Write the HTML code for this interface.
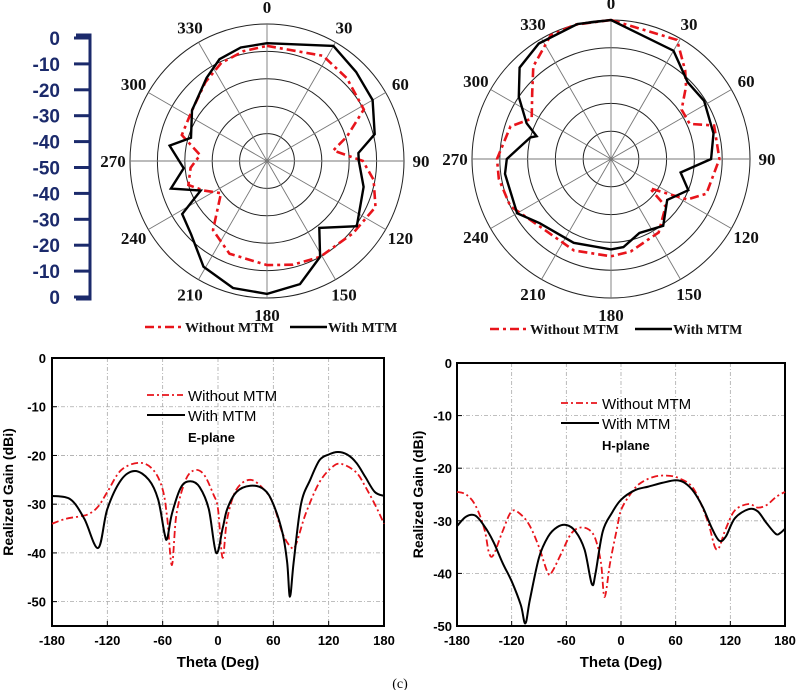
<!DOCTYPE html>
<html><head><meta charset="utf-8">
<style>
html,body{margin:0;padding:0;background:#fff;}
svg{display:block;}
.ser{font-family:"Liberation Serif",serif;font-weight:bold;}
.san{font-family:"Liberation Sans",sans-serif;}
</style></head>
<body>
<svg id="fig" width="797" height="690" viewBox="0 0 797 690" xmlns="http://www.w3.org/2000/svg">
<g id="scale"></g>
<g id="polarL"></g>
<g id="polarR"></g>
<g id="cartL"></g>
<g id="cartR"></g>
<text x="400" y="688" text-anchor="middle" font-family="Liberation Serif,serif" font-size="14">(c)</text>
</svg>
<script>
// ---- polar data (angle deg, gain dB, 0 at outer ring, -50 at centre)
const polarAnglesLWith = [0,30,45,60,76,85,90,105,126,142,151,165,180,195,211,226,238,246,254,265,279,287,304,324,335,347];
const polarLWith = [-7,-1.5,-4,-5.5,-9.5,-16.5,-16.5,-13.5,-9.5,-19,-10,-3.5,-1.5,-2,-5,-11.5,-13.5,-23.5,-13.5,-19.5,-14,-21,-17,-12.5,-9,-7.5];
const polarAnglesLWithout = [0,28,44,62,73,81,90,100,113,130,151,166,180,202,218,235,245,253,265,275,287,304,322,335,348];
const polarLWithout = [-8,-6.5,-8,-10,-19.5,-25.5,-15,-10.5,-7,-9,-10,-11,-12,-13.5,-18,-29.5,-24.5,-20,-22,-25.5,-17.5,-17,-13.5,-10.5,-9];
const polarAnglesRWith = [0,30,45,58,76,90,101,112,126,142,159,172,180,204,228,240,262,270,285,287,293,304,315,328,346];
const polarRWith = [0,-5,-11,-10.5,-12,-14,-24.5,-20,-25,-19.5,-21.5,-18,-17.5,-17,-15.5,-11,-11.5,-12.5,-20,-22,-17,-10,-3.5,-1,0];
const polarAnglesRWithout = [0,29,40,46,55,66,72,90,110,118,127,131,147,168,180,202,224,245,260,270,288,297,310,320,334,345];
const polarRWithout = [0,-1,-8.5,-12.5,-19,-19,-11,-11,-13.5,-19,-32.5,-24,-18.5,-16,-15,-14.5,-15,-10,-9,-9,-12,-18,-13,-6.5,-0.5,0];
const polarAngleTicks = [0,30,60,90,120,150,180,210,240,270,300,330];
const scaleTickLabels = ["0","-10","-20","-30","-40","-50","-40","-30","-20","-10","0"];

// ---- cartesian data
const thetaTicks = [-180,-120,-60,0,60,120,180];
const gainTicks = [0,-10,-20,-30,-40,-50];
const eThetaWith = [-180,-160,-145,-130,-120,-105,-90,-75,-65,-58,-55,-50,-40,-30,-20,-10,-2,5,10,20,35,50,60,70,75,78,82,90,100,110,120,130,140,150,160,170,180];
const eGainWith = [-28.3,-29,-33,-39,-31,-25,-23.2,-25,-29,-36,-37,-32,-26.5,-25.3,-26.5,-31,-40,-35,-31,-27.5,-26.2,-27,-30,-36,-42,-49,-42,-30,-25,-21,-19.8,-19.3,-19.8,-21.5,-24.5,-27.5,-28.3];
const eThetaWithout = [-180,-165,-150,-140,-130,-120,-105,-85,-70,-60,-55,-50,-45,-35,-25,-15,-5,0,5,10,20,35,50,60,70,80,85,95,110,125,135,150,160,170,180];
const eGainWithout = [-34,-33,-32.5,-32,-30.5,-27.5,-23,-21.5,-23,-27,-33,-42.5,-32,-25,-23,-24,-28,-31,-41,-33,-27,-25,-27,-30,-36,-39,-38,-32,-25.5,-22.2,-21.8,-23.5,-26.5,-30,-34];
const hThetaWith = [-180,-170,-160,-150,-140,-130,-120,-110,-105,-100,-90,-80,-70,-60,-50,-40,-32,-28,-20,-10,0,15,30,45,60,70,80,90,100,108,115,125,140,150,160,170,175,180];
const hGainWith = [-31,-29.2,-29,-31,-34,-38,-41.5,-46,-49.5,-45,-37,-33,-31.2,-30.8,-32,-35.5,-42,-40,-32,-28.5,-26,-24.2,-23.5,-22.8,-22.3,-22.8,-24.5,-27.5,-31.5,-33.8,-33,-29.5,-27.8,-28.2,-30.5,-32.5,-32.3,-31.5];
const hThetaWithout = [-180,-170,-160,-150,-145,-140,-130,-120,-110,-100,-90,-80,-75,-65,-55,-45,-35,-28,-22,-18,-12,-5,0,10,20,35,50,65,80,95,105,115,125,140,150,160,170,180];
const hGainWithout = [-24.5,-25,-27,-31.5,-36,-36.5,-32,-28.2,-28.8,-31,-35,-40,-39.5,-36,-32.5,-31.3,-31.7,-33.5,-38,-44.5,-38,-32,-28,-25,-23,-21.7,-21.4,-22,-24,-30,-35.5,-31.5,-28,-26.8,-27.5,-27,-25.5,-24.5];

const NS = "http://www.w3.org/2000/svg";
function mk(parent, tag, attrs, text){
  const e = document.createElementNS(NS, tag);
  for (const k in attrs) e.setAttribute(k, attrs[k]);
  if (text !== undefined) e.textContent = text;
  parent.appendChild(e);
  return e;
}
function smoothPath(pts, closed){
  const n = pts.length;
  const get = i => closed ? pts[(i+n)%n] : pts[Math.max(0,Math.min(n-1,i))];
  let d = "M" + pts[0][0].toFixed(1) + "," + pts[0][1].toFixed(1);
  const last = closed ? n : n-1;
  for (let i=0;i<last;i++){
    const p0=get(i-1),p1=get(i),p2=get(i+1),p3=get(i+2);
    const c1=[p1[0]+(p2[0]-p0[0])/6,p1[1]+(p2[1]-p0[1])/6];
    const c2=[p2[0]-(p3[0]-p1[0])/6,p2[1]-(p3[1]-p1[1])/6];
    d += "C"+c1[0].toFixed(1)+","+c1[1].toFixed(1)+" "+c2[0].toFixed(1)+","+c2[1].toFixed(1)+" "+p2[0].toFixed(1)+","+p2[1].toFixed(1);
  }
  return d + (closed ? "Z" : "");
}

// ---- scale bar
(function(){
  const g = document.getElementById('scale');
  const navy = "#1b2a6b";
  const y0 = 38, y1 = 297;
  const ln = mk(g,'path',{d:"M76,"+(y0-3)+"H90V"+(y1+2)+"H76",fill:"none",stroke:navy,"stroke-width":3});
  
  
  scaleTickLabels.forEach((lab,i)=>{
    const y = y0 + (y1-y0)*i/(scaleTickLabels.length-1);
    const t = mk(g,'line',{x1:74,x2:90,y1:y,y2:y,stroke:navy,"stroke-width":3});
    
    
    const tx = mk(g,'text',{x:60,y:y+7,"text-anchor":"end","font-family":"Liberation Sans,sans-serif","font-weight":"bold","font-size":19,fill:navy},lab);
    
    
  });
})();

// ---- polar charts
function polar(id, cx, cy, R, withA, withV, woA, woV, legY, legX){
  const g = document.getElementById(id);
  const rOf = db => Math.max(0,(db+50)/50)*R;
  for (let k=1;k<=5;k++){
    const c = mk(g,'circle',{cx:cx,cy:cy,r:R*k/5,fill:"none",stroke:"#222","stroke-width":1});
    
    
  }
  polarAngleTicks.forEach(a=>{
    const rad = a*Math.PI/180;
    const sp = mk(g,'line',{x1:cx,y1:cy,x2:cx+R*Math.sin(rad),y2:cy-R*Math.cos(rad),stroke:"#777","stroke-width":0.9});
    
    
    const lr = R+17;
    const t = mk(g,'text',{x:cx+lr*Math.sin(rad),y:cy-lr*Math.cos(rad)+6,"text-anchor":"middle","class":"ser","font-size":17,fill:"#111"},String(a));
    
    
  });
  const pts = (A,V)=>A.map((a,i)=>{const rad=a*Math.PI/180,r=rOf(V[i]);return [cx+r*Math.sin(rad),cy-r*Math.cos(rad)];});
  const pw = mk(g,'path',{d:"M"+pts(woA,woV).map(p=>p[0].toFixed(1)+","+p[1].toFixed(1)).join("L")+"Z",fill:"none",stroke:"#e8141b","stroke-width":2.6,"stroke-dasharray":"9 4 3 4"});
  
  
  const pm = mk(g,'path',{d:"M"+pts(withA,withV).map(p=>p[0].toFixed(1)+","+p[1].toFixed(1)).join("L")+"Z",fill:"none",stroke:"#000","stroke-width":2.4});
  
  
  // legend
  const l1 = mk(g,'line',{x1:legX,x2:legX+38,y1:legY,y2:legY,stroke:"#e8141b","stroke-width":2.6,"stroke-dasharray":"9 4 3 4"});
  
  
  const t1 = mk(g,'text',{x:legX+40,y:legY+5,"class":"ser","font-size":14,fill:"#111"},"Without MTM");
  
  
  const l2 = mk(g,'line',{x1:legX+145,x2:legX+182,y1:legY,y2:legY,stroke:"#000","stroke-width":2.6});
  
  
  const t2 = mk(g,'text',{x:legX+183,y:legY+5,"class":"ser","font-size":14,fill:"#111"},"With MTM");
  
  
}
polar('polarL',267,161,137,polarAnglesLWith,polarLWith,polarAnglesLWithout,polarLWithout,327,145);
polar('polarR',611,159,139,polarAnglesRWith,polarRWith,polarAnglesRWithout,polarRWithout,329,490);

// ---- cartesian charts
function cart(id, L, Rr, T, yMin, yMinPx, wT, wG, woT, woG, legX, legY, planeLabel, ylabX, tickLabX){
  const g = document.getElementById(id);
  const x = v => L + (v+180)/360*(Rr-L);
  const y = v => T + (0-v)/(0-yMin)*(yMinPx-T);
  const B = y(yMin);
  thetaTicks.forEach(v=>{
    if (v>-180 && v<180){
      const gl = mk(g,'line',{x1:x(v),x2:x(v),y1:T,y2:B,stroke:"#aaa","stroke-width":0.8,"stroke-dasharray":"4 2 1 2"});
      
      
    }
    const tk = mk(g,'line',{x1:x(v),x2:x(v),y1:B,y2:B-5,stroke:"#000","stroke-width":1});
    
    
    const t = mk(g,'text',{x:x(v),y:645,"text-anchor":"middle","class":"san","font-weight":"bold","font-size":13},String(v));
    
    
  });
  gainTicks.forEach(v=>{
    if (v<0 && v>yMin){
      const gl = mk(g,'line',{x1:L,x2:Rr,y1:y(v),y2:y(v),stroke:"#aaa","stroke-width":0.8,"stroke-dasharray":"4 2 1 2"});
      
      
    }
    const tk = mk(g,'line',{x1:L,x2:L+5,y1:y(v),y2:y(v),stroke:"#000","stroke-width":1});
    
    
    const t = mk(g,'text',{x:tickLabX,y:y(v)+5,"text-anchor":"end","class":"san","font-weight":"bold","font-size":13},String(v));
    
    
  });
  const fr = mk(g,'rect',{x:L,y:T,width:Rr-L,height:B-T,fill:"none",stroke:"#000","stroke-width":2});
  
  
  const red = mk(g,'path',{d:smoothPath(woT.map((t,i)=>[x(t),y(woG[i])]),false),fill:"none",stroke:"#e8141b","stroke-width":1.8,"stroke-dasharray":"7 3 2 3"});
  
  
  const blk = mk(g,'path',{d:smoothPath(wT.map((t,i)=>[x(t),y(wG[i])]),false),fill:"none",stroke:"#000","stroke-width":2});
  
  
  const l1 = mk(g,'line',{x1:legX,x2:legX+36,y1:legY,y2:legY,stroke:"#e8141b","stroke-width":1.8,"stroke-dasharray":"7 3 2 3"});
  
  
  const t1 = mk(g,'text',{x:legX+41,y:legY+6,"class":"san","font-size":15},"Without MTM");
  
  
  const l2 = mk(g,'line',{x1:legX,x2:legX+38,y1:legY+20,y2:legY+20,stroke:"#000","stroke-width":2});
  
  
  const t2 = mk(g,'text',{x:legX+41,y:legY+26,"class":"san","font-size":15},"With MTM");
  
  
  const t3 = mk(g,'text',{x:legX+41,y:legY+47,"class":"san","font-weight":"bold","font-size":13},planeLabel);
  
  
  const xt = mk(g,'text',{x:(L+Rr)/2,y:667,"text-anchor":"middle","class":"san","font-weight":"bold","font-size":15},"Theta (Deg)");
  
  
  const cy = (T+B)/2;
  const yt = mk(g,'text',{x:ylabX,y:cy,"text-anchor":"middle","class":"san","font-weight":"bold","font-size":14,transform:"rotate(-90 "+ylabX+" "+cy+")"},"Realized Gain (dBi)");
  
  
}
cart('cartL',52,384,358,-55,626,eThetaWith,eGainWith,eThetaWithout,eGainWithout,147,395,"E-plane",13,46);
cart('cartR',457,785,363,-50,626,hThetaWith,hGainWith,hThetaWithout,hGainWithout,561,403,"H-plane",423,452);
</script>
</body></html>
